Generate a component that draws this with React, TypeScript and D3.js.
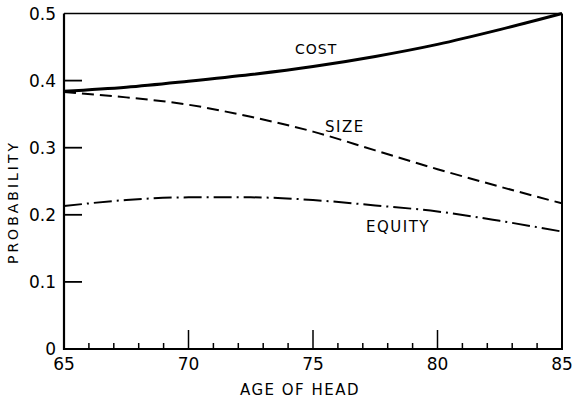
import React from "react";
import * as d3 from "d3";

const ages = [65, 67.5, 70, 72.5, 75, 77.5, 80, 82.5, 85];
const cost = [0.384, 0.39, 0.399, 0.409, 0.421, 0.436, 0.454, 0.476, 0.5];
const size = [0.383, 0.375, 0.364, 0.346, 0.324, 0.296, 0.268, 0.242, 0.217];
const equity = [0.213, 0.222, 0.226, 0.226, 0.222, 0.214, 0.205, 0.191, 0.175];
const xTicks = [65, 70, 75, 80, 85];
const yTicks = [0, 0.1, 0.2, 0.3, 0.4, 0.5];
const yTickLabels = ["0", "0.1", "0.2", "0.3", "0.4", "0.5"];

const W = 576;
const H = 402;
const L = 64, R = 562, T = 13.5, B = 349;
const FONT = "'DejaVu Sans', 'Liberation Sans', sans-serif";

export default function App() {
  const x = d3.scaleLinear().domain([65, 85]).range([L, R]);
  const y = d3.scaleLinear().domain([0, 0.5]).range([B, T]);
  const line = d3
    .line<number>()
    .x((_, i) => x(ages[i]))
    .y((d) => y(d))
    .curve(d3.curveMonotoneX);

  const minor = d3.range(66, 85).filter((v) => v % 5 !== 0);

  return (
    <svg width={W} height={H} style={{ position: "absolute", left: 0, top: 0, background: "#fff" }}>
      <rect x={0} y={0} width={W} height={H} fill="#fff" />
      {/* frame */}
      <line x1={L} y1={T} x2={R} y2={T} stroke="#000" strokeWidth={1.6} />
      <line x1={R} y1={T} x2={R} y2={B} stroke="#000" strokeWidth={2} />
      <line x1={L} y1={T} x2={L} y2={B + 1} stroke="#000" strokeWidth={2.2} />
      <line x1={L - 1} y1={B} x2={R + 1} y2={B} stroke="#000" strokeWidth={2} />
      {/* y ticks */}
      {yTicks.slice(1, 5).map((v) => (
        <line key={"yt" + v} x1={L} y1={y(v)} x2={L + 18} y2={y(v)} stroke="#000" strokeWidth={1.8} />
      ))}
      {yTicks.map((v, i) => (
        <text
          key={"yl" + v}
          x={56}
          y={y(v) + 6}
          textAnchor="end"
          fontFamily={FONT}
          fontSize={17}
        >
          {yTickLabels[i]}
        </text>
      ))}
      {/* x ticks */}
      {minor.map((v) => (
        <line key={"xm" + v} x1={x(v)} y1={B} x2={x(v)} y2={B - 6} stroke="#000" strokeWidth={1.5} />
      ))}
      {xTicks.slice(1, 4).map((v) => (
        <line key={"xt" + v} x1={x(v)} y1={B} x2={x(v)} y2={B - 19} stroke="#000" strokeWidth={1.5} />
      ))}
      {xTicks.map((v) => (
        <text key={"xl" + v} x={x(v)} y={370} textAnchor="middle" fontFamily={FONT} fontSize={17}>
          {v}
        </text>
      ))}
      {/* axis titles */}
      <text x={300} y={395} textAnchor="middle" fontFamily={FONT} fontSize={15} letterSpacing={1.5}>
        AGE OF HEAD
      </text>
      <text
        transform="translate(18,202) rotate(-90)"
        textAnchor="middle"
        fontFamily={FONT}
        fontSize={14}
        letterSpacing={3}
      >
        PROBABILITY
      </text>
      {/* series */}
      <path d={line(cost) || ""} fill="none" stroke="#000" strokeWidth={3} />
      <path d={line(size) || ""} fill="none" stroke="#000" strokeWidth={2} strokeDasharray="12 6" />
      <path d={line(equity) || ""} fill="none" stroke="#000" strokeWidth={2} strokeDasharray="18 5 2 5" />
      {/* series labels */}
      <text x={295} y={54} fontFamily={FONT} fontSize={14} letterSpacing={1}>COST</text>
      <text x={325} y={132} fontFamily={FONT} fontSize={15} letterSpacing={1.5}>SIZE</text>
      <text x={366} y={232} fontFamily={FONT} fontSize={15} letterSpacing={1.5}>EQUITY</text>
    </svg>
  );
}
